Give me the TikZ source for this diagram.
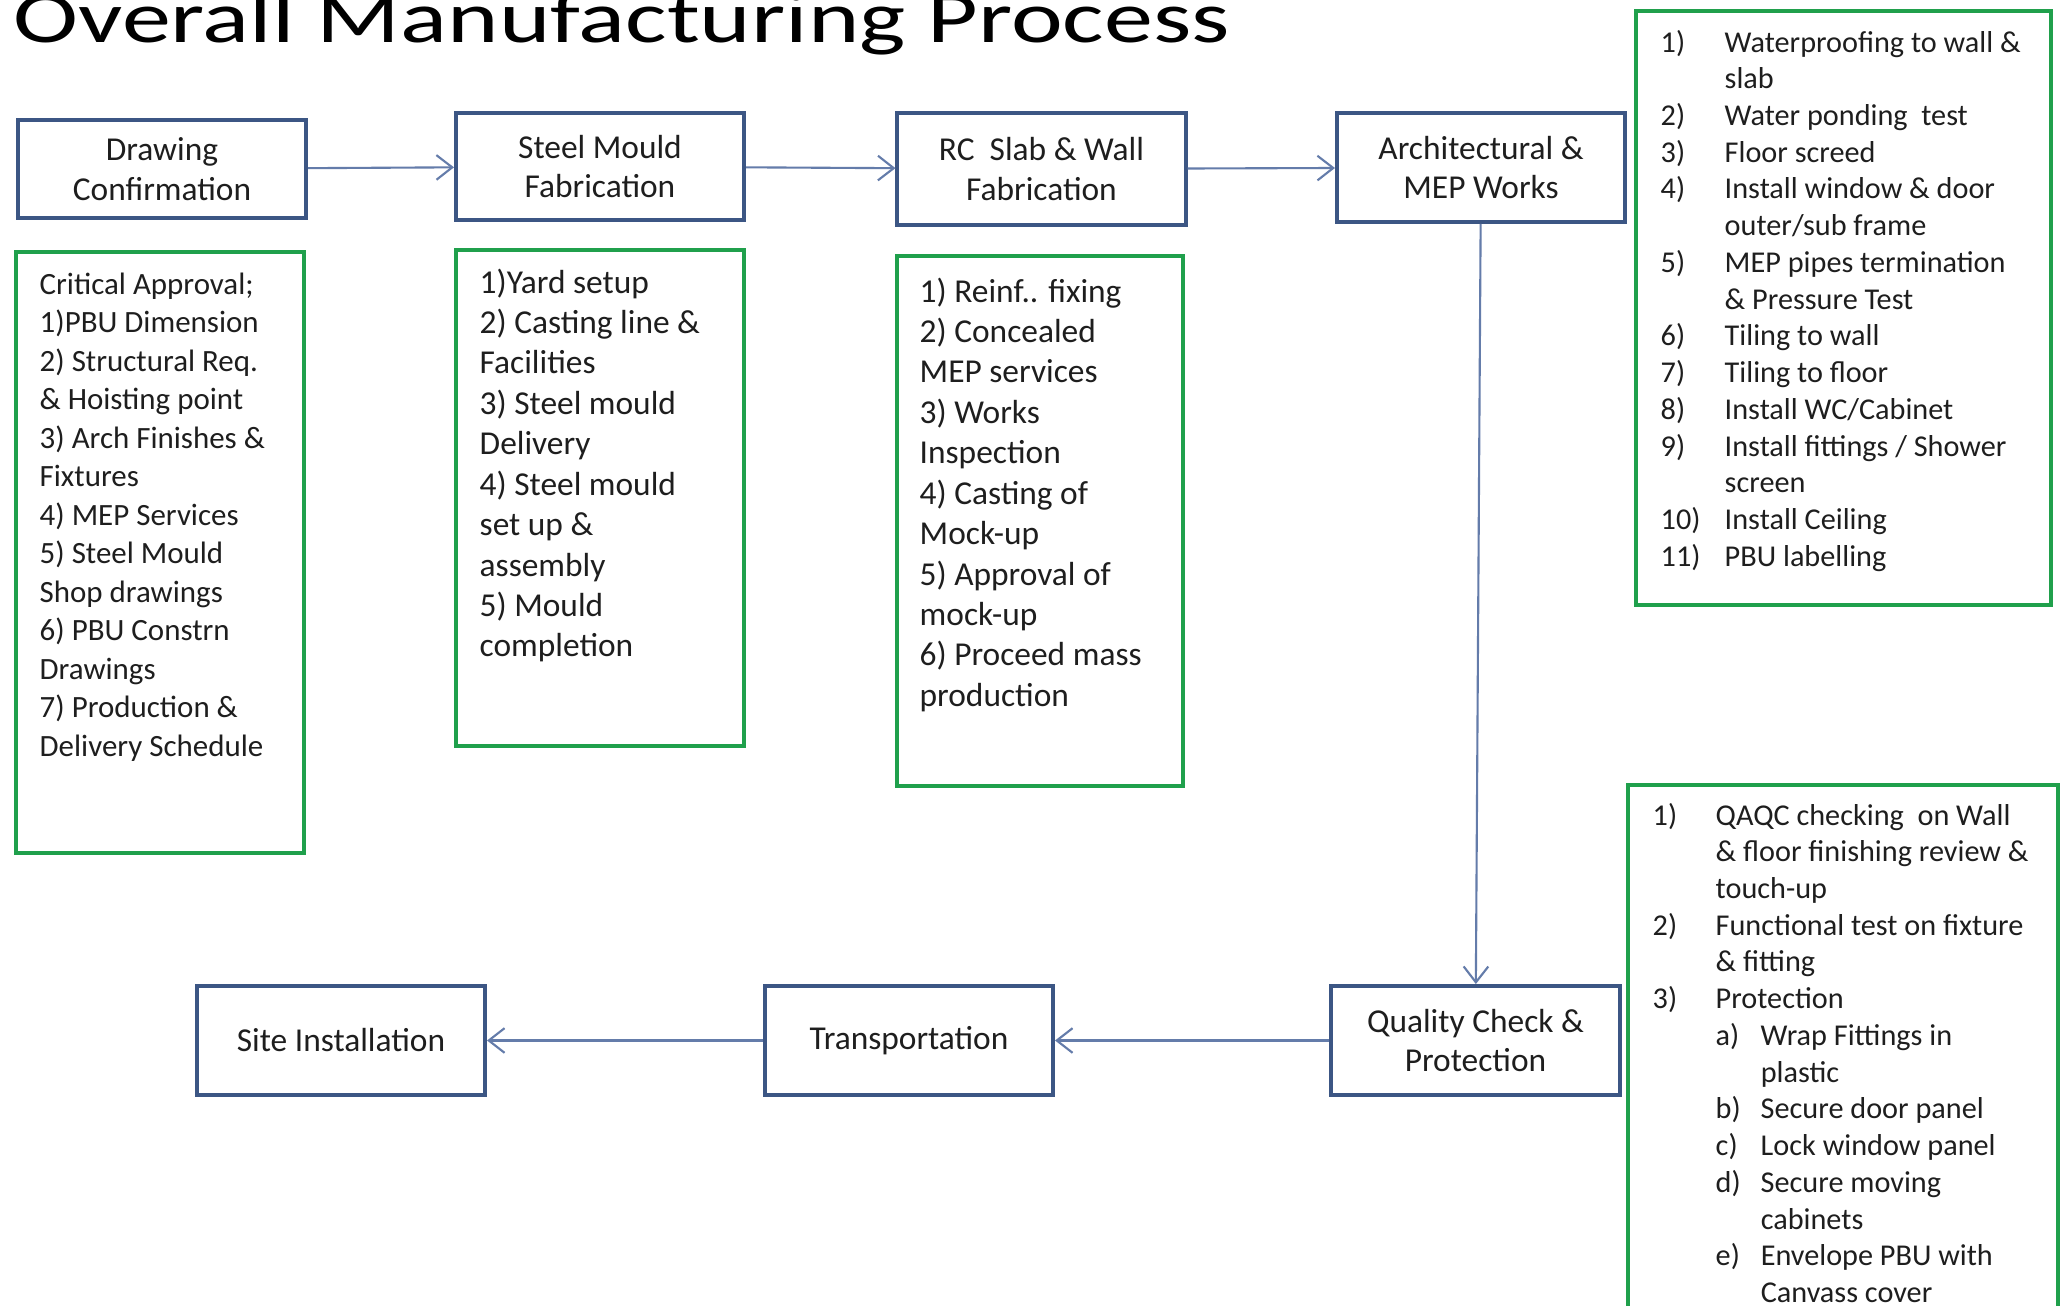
\documentclass[tikz,border=0pt]{standalone}
\usepackage{fontspec}
\setmainfont{Carlito}
\newfontfamily\titlefont[FakeStretch=1.34]{Carlito}
\usetikzlibrary{arrows.meta}
\definecolor{stageblue}{RGB}{60,86,132}
\definecolor{linkblue}{RGB}{100,124,170}
\definecolor{listgreen}{RGB}{32,160,76}
\definecolor{inkgray}{RGB}{30,30,30}
\newcommand{\spanrow}[1]{\multicolumn{2}{@{}l@{}}{#1}}

\begin{document}
\begin{tikzpicture}[x=0.01cm, y=-0.01cm,
    stage/.style={draw=stageblue, line width=1.1pt, fill=white, text=inkgray,
      minimum width=2.88cm, align=center, inner sep=0pt,
      font=\fontsize{9.5}{11.2}\selectfont},
    listframe/.style={draw=listgreen, line width=1.3pt, inner sep=0pt},
    items/.style={anchor=base west, inner sep=0pt, text=inkgray},
    flow/.style={draw=linkblue, line width=0.6pt,
      -{Straight Barb[length=4.5pt,width=7pt]}}]
         \useasboundingbox (0,0) rectangle (2062,1306);
         \clip (0,0) rectangle (2062,1306);
         \fill [white] (0,0) rectangle (2062,1306);

         \node [anchor=base west, inner sep=0pt, font=\titlefont\fontsize{20.8}{25}\selectfont] (TT) at (13, 42) {Overall Manufacturing Process};

         \node [stage, minimum height=0.98cm] (DC) at (162, 169) {Drawing\\Confirmation};
         \node [stage, minimum height=1.07cm] (SM) at (600, 166.5) {Steel Mould\\Fabrication};
         \node [stage, minimum height=1.12cm] (RC) at (1041.5, 169) {RC\ \ Slab \& Wall\\Fabrication};
         \node [stage, minimum height=1.09cm] (AM) at (1481, 167.5) {Architectural \&\\MEP Works};
         \node [stage, minimum height=1.09cm] (QC) at (1475.5, 1040.5) {Quality Check \&\\Protection};
         \node [stage, minimum height=1.09cm] (TR) at (909, 1040.5) {Transportation};
         \node [stage, minimum height=1.09cm] (SI) at (341, 1040.5) {Site Installation};

         \node [listframe, minimum width=2.88cm, minimum height=6.01cm] (DCF) at (160, 552.5) {};
         \node [listframe, minimum width=2.88cm, minimum height=4.96cm] (SMF) at (600, 498) {};
         \node [listframe, minimum width=2.86cm, minimum height=5.30cm] (RCF) at (1040, 521) {};
         \node [listframe, minimum width=4.15cm, minimum height=5.94cm] (AMF) at (1843.5, 308) {};
         \node [listframe, minimum width=4.30cm, minimum height=5.45cm] (QCF) at (1843, 1057.5) {};

         \node [items, font=\fontsize{8.8}{10.95}\selectfont] (DCL) at (39, 294) {\begin{tabular}[t]{@{}l@{}}
           Critical Approval;\\
           1)PBU Dimension\\
           2) Structural Req.\\
           \& Hoisting point\\
           3) Arch Finishes \&\\
           Fixtures\\
           4) MEP Services\\
           5) Steel Mould\\
           Shop drawings\\
           6) PBU Constrn\\
           Drawings\\
           7) Production \&\\
           Delivery Schedule
         \end{tabular}};
         \node [items, font=\fontsize{9.5}{11.5}\selectfont] (SML) at (479, 293) {\begin{tabular}[t]{@{}l@{}}
           1)Yard setup\\
           2) Casting line \&\\
           Facilities\\
           3) Steel mould\\
           Delivery\\
           4) Steel mould\\
           set up \&\\
           assembly\\
           5) Mould\\
           completion
         \end{tabular}};
         \node [items, font=\fontsize{9.5}{11.5}\selectfont] (RCL) at (919, 302) {\begin{tabular}[t]{@{}l@{}}
           1) Reinf.. fixing\\
           2) Concealed\\
           MEP services\\
           3) Works\\
           Inspection\\
           4) Casting of\\
           Mock-up\\
           5) Approval of\\
           mock-up\\
           6) Proceed mass\\
           production
         \end{tabular}};
         \node [items, font=\fontsize{8.6}{10.45}\selectfont] (AML) at (1660, 52) {\begin{tabular}[t]{@{}p{0.64cm}@{}l@{}}
           1) & Waterproofing to wall \&\\
              & slab\\
           2) & Water ponding\ \ test\\
           3) & Floor screed\\
           4) & Install window \& door\\
              & outer/sub frame\\
           5) & MEP pipes termination\\
              & \& Pressure Test\\
           6) & Tiling to wall\\
           7) & Tiling to floor\\
           8) & Install WC/Cabinet\\
           9) & Install fittings / Shower\\
              & screen\\
           10) & Install Ceiling\\
           11) & PBU labelling
         \end{tabular}};
         \node [items, font=\fontsize{8.6}{10.45}\selectfont] (QCL) at (1652, 825) {\begin{tabular}[t]{@{}p{0.63cm}@{}p{0.45cm}@{}l@{}}
           1) & \spanrow{QAQC checking\ \ on Wall}\\
              & \spanrow{\& floor finishing review \&}\\
              & \spanrow{touch-up}\\
           2) & \spanrow{Functional test on fixture}\\
              & \spanrow{\& fitting}\\
           3) & \spanrow{Protection}\\
              & a) & Wrap Fittings in\\
              &    & plastic\\
              & b) & Secure door panel\\
              & c) & Lock window panel\\
              & d) & Secure moving\\
              &    & cabinets\\
              & e) & Envelope PBU with\\
              &    & Canvass cover
         \end{tabular}};

         \draw [flow] (DC) -- (SM);
         \draw [flow] (SM) -- (RC);
         \draw [flow] (RC) -- (AM);
         \draw [flow] (AM) -- (QC);
         \draw [flow] (QC) -- (TR);
         \draw [flow] (TR) -- (SI);
\end{tikzpicture}
\end{document}
